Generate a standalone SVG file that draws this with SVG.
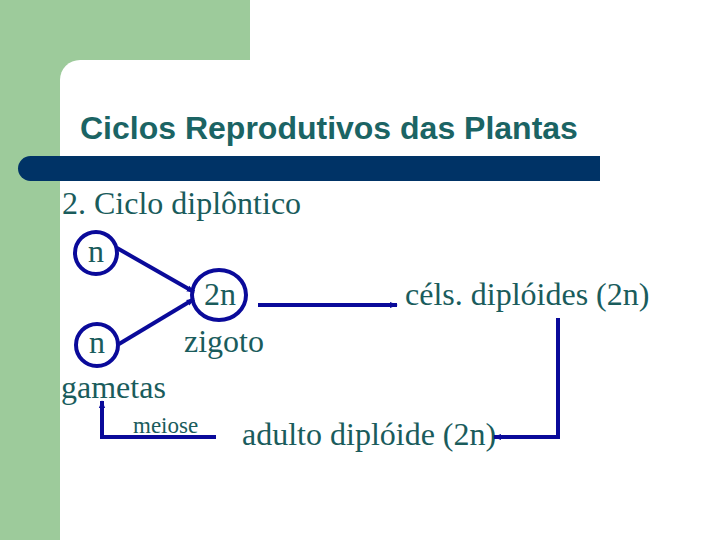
<svg xmlns="http://www.w3.org/2000/svg" width="720" height="540" viewBox="0 0 720 540">
<style>
.t{font-family:"Liberation Serif","Times New Roman",serif;font-size:32px;fill:#1a5c5c}
.title{font-family:"Liberation Sans",Arial,sans-serif;font-size:32px;font-weight:bold;fill:#1b6464}
.c{fill:none;stroke:#0a0a9a;stroke-width:4}
.ln{fill:none;stroke:#0a0a9a;stroke-width:4}
</style>
<defs>
<marker id="ah" markerUnits="userSpaceOnUse" markerWidth="8" markerHeight="8" viewBox="0 0 10 10" refX="9" refY="5" orient="auto">
<path d="M0,1 L10,5 L0,9 Z" fill="#0a0a9a"/>
</marker>
</defs>
<rect x="0" y="0" width="720" height="540" fill="#ffffff"/>
<rect x="0" y="0" width="250" height="540" fill="#9dcb9b"/>
<rect x="60" y="60" width="700" height="520" rx="20" ry="20" fill="#ffffff"/>
<path d="M30.5,156 H600 V181 H30.5 A12.5,12.5 0 0 1 30.5,156 Z" fill="#003366"/>
<text class="title" x="80" y="139">Ciclos Reprodutivos das Plantas</text>
<text class="t" x="62" y="214">2. Ciclo diplôntico</text>
<g id="n1">
<circle class="c" cx="96" cy="253" r="21"/>
<text class="t" x="96" y="262" text-anchor="middle">n</text>
</g>
<g id="n2">
<circle class="c" cx="97" cy="345" r="21"/>
<text class="t" x="97" y="353" text-anchor="middle">n</text>
</g>
<g id="zigoto">
<ellipse class="c" cx="219" cy="295" rx="27" ry="25"/>
<text class="t" x="220" y="305" text-anchor="middle">2n</text>
<text class="t" x="184" y="352">zigoto</text>
</g>
<g id="gametas">
<text class="t" x="61" y="398">gametas</text>
</g>
<g id="cels">
<text class="t" x="405" y="305">céls. diplóides (2n)</text>
</g>
<g id="adulto">
<text class="t" x="242" y="445">adulto diplóide (2n)</text>
</g>
<g id="meiose">
<text class="t" x="133" y="433" style="font-size:23px">meiose</text>
</g>
<g id="connectors">
<line class="ln" x1="117" y1="248" x2="194" y2="292" marker-end="url(#ah)"/>
<line class="ln" x1="119" y1="344" x2="194" y2="299" marker-end="url(#ah)"/>
<line class="ln" x1="258" y1="305" x2="397" y2="305" marker-end="url(#ah)"/>
<polyline class="ln" points="558,318 558,437 494,437" marker-end="url(#ah)"/>
<polyline class="ln" points="216,437 102,437 102,401" marker-end="url(#ah)"/>
</g>
</svg>
